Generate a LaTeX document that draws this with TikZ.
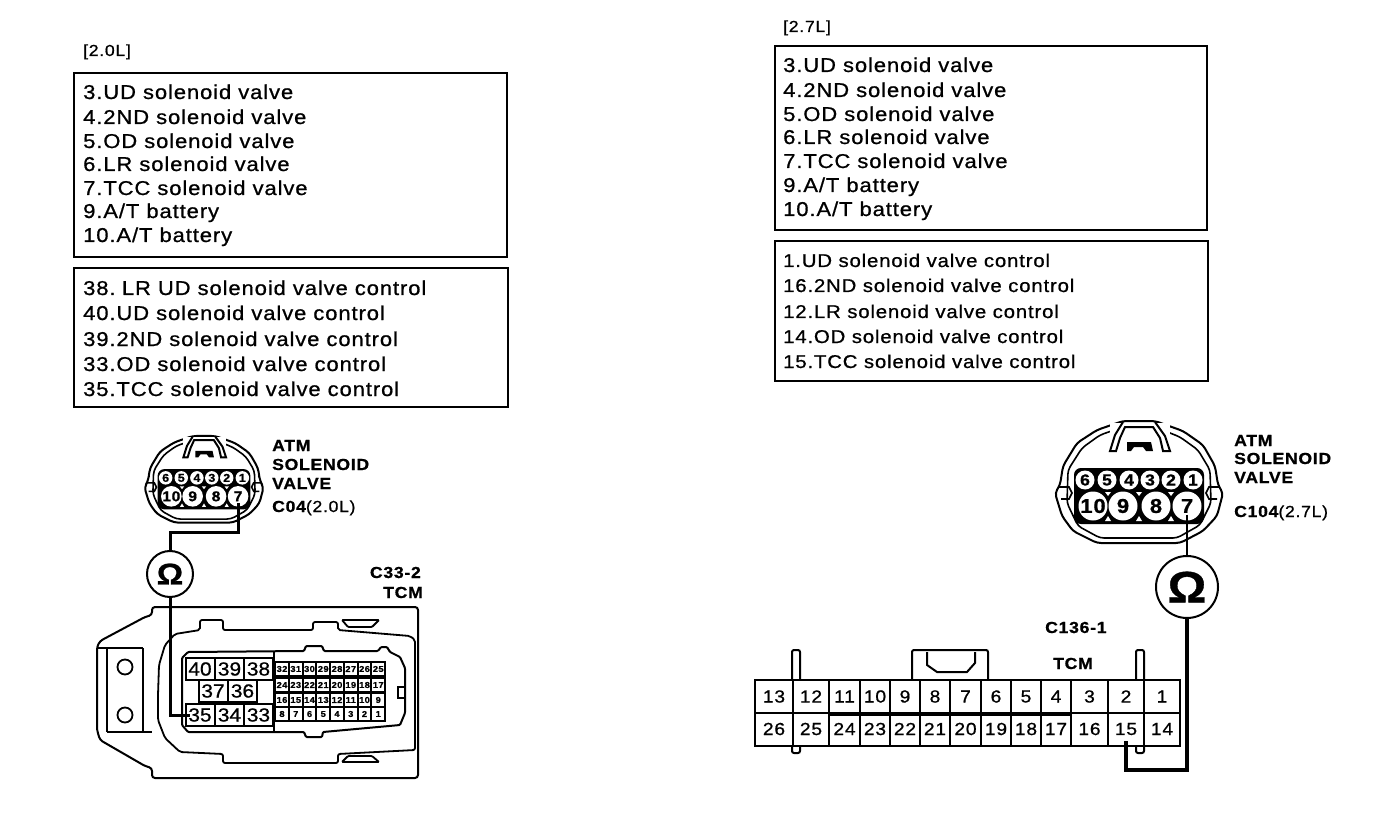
\documentclass[tikz,border=0pt]{standalone}
\usepackage{fontspec}
\setmainfont[FakeStretch=1.1,LetterSpace=4.5,FakeBold=0.8]{Liberation Sans}
\tikzset{
  wire/.style={line width=3pt},
  listbox/.style={line width=2pt},
  listtext/.style={anchor=base west,inner sep=0pt,font=\fontsize{20}{20}\selectfont},
  listsmall/.style={listtext,font=\fontsize{18.5}{18.5}\selectfont},
  tagtext/.style={anchor=base west,inner sep=0pt,font=\fontsize{16}{16}\selectfont},
  namelabel/.style={anchor=base west,inner sep=0pt,font=\fontsize{16}{16}\bfseries\selectfont},
  ohmlarge/.style={circle,draw,line width=2pt,fill=white,minimum size=62pt,inner sep=0pt,font=\fontsize{44}{44}\bfseries\selectfont},
  ohmsmall/.style={circle,draw,line width=2pt,fill=white,minimum size=46pt,inner sep=0pt,font=\fontsize{30}{30}\bfseries\selectfont},
  bigcell/.style={draw,line width=2pt,inner sep=0pt,minimum width=29pt,minimum height=22pt,font=\fontsize{19}{19}\selectfont\addfontfeatures{LetterSpace=0}},
  tinycell/.style={draw,line width=1.8pt,inner sep=0pt,minimum width=13.7pt,minimum height=14pt,font=\fontsize{8.5}{8.5}\bfseries\selectfont},
  railcell/.style={draw,line width=2pt,inner sep=0pt,minimum height=33pt,font=\fontsize{17.5}{17.5}\selectfont},
  atmconn/.pic={
    \draw[line width=2pt,rounded corners=4pt] (0,-62) -- (16,-62) -- (44,-52) -- (64,-38) -- (76,-17) -- (79,2) -- (84,10) -- (78,33) -- (64,48) -- (41,60) -- (-42,60) -- (-66,48) -- (-77,33) -- (-84,10) -- (-79,2) -- (-76,-17) -- (-62,-40) -- (-42,-53) -- (-16,-62) -- cycle;
    \draw[line width=1.6pt,rounded corners=4pt] (0,55) -- (38,55) -- (61,42) -- (72,20) -- (71,-13) -- (59,-33) -- (41,-46) -- (16,-56) -- (-16,-56) -- (-39,-48) -- (-57,-35) -- (-71,-13) -- (-72,20) -- (-61,43) -- (-39,55) -- cycle;
    \draw[line width=1.6pt] (-80,4) -- (-70,4) -- (-67,10) -- (-70,16) -- (-78,16);
    \draw[line width=1.6pt] (80,4) -- (70,4) -- (67,10) -- (70,16) -- (78,16);
    \fill[white] (-29,-60) rectangle (31,-33);
    \draw[line width=2pt] (-16,-61) -- (-24,-48) -- (-29,-32) -- (-23,-32) -- (-19,-45) -- (-14,-56) -- (14,-56) -- (21,-45) -- (24,-32) -- (31,-32) -- (26,-47) -- (16,-61);
    \fill (-12,-41) -- (12,-41) -- (14,-32) -- (7,-32) -- (4,-36) -- (-5,-36) -- (-8,-32) -- (-12,-32) -- cycle;
    \draw[line width=2pt,fill=black,rounded corners=6pt] (-64,-14) rectangle (64,40);
    \foreach \gx in {-31,0,32} {
      \fill[white] (\gx-3,38) -- (\gx+3,38) -- (\gx,33) -- cycle;
      \fill[white] (\gx-3,9) -- (\gx+3,9) -- (\gx,13) -- cycle;
    }
    \foreach \px/\pn in {-54/6,-32/5,-10/4,11/3,32/2,54/1}
      \node[circle,fill=white,inner sep=0pt,minimum size=19pt,transform shape,font=\fontsize{16}{16}\bfseries\selectfont] (-p\pn) at (\px,-3) {\pn};
    \foreach \px/\pn in {-46/10,-16/9,17/8,48/7}
      \node[circle,fill=white,inner sep=0pt,minimum size=29pt,transform shape,font=\fontsize{20}{20}\bfseries\selectfont] (-p\pn) at (\px,23) {\pn};
  }
}
\begin{document}
\begin{tikzpicture}[x=1pt,y=-1pt]
  \useasboundingbox (0,0) rectangle (1376,826);
  \fill[white] (0,0) rectangle (1376,826);

  \node[tagtext] (ltag) at (83,56) {[2.0L]};
  \node[tagtext] (rtag) at (783,32) {[2.7L]};

  \draw[listbox] (74,73) rectangle (507,257);
  \draw[listbox] (74,268) rectangle (508,407);
  \draw[listbox] (775,46) rectangle (1207,230);
  \draw[listbox] (775,241) rectangle (1208,381);

  \foreach \ty/\tx [count=\n] in {99/3.UD solenoid valve,124/4.2ND solenoid valve,148/5.OD solenoid valve,171/6.LR solenoid valve,195/7.TCC solenoid valve,218/{9.A/T battery},242/{10.A/T battery}}
    \node[listtext] (la\n) at (83,\ty) {\tx};
  \foreach \ty/\tx [count=\n] in {295/38. \hspace{-3pt}LR UD solenoid valve control,320/40.UD solenoid valve control,346/39.2ND solenoid valve control,371/33.OD solenoid valve control,396/35.TCC solenoid valve control}
    \node[listtext] (lb\n) at (83,\ty) {\tx};
  \foreach \ty/\tx [count=\n] in {72/3.UD solenoid valve,97/4.2ND solenoid valve,121/5.OD solenoid valve,144/6.LR solenoid valve,168/7.TCC solenoid valve,192/{9.A/T battery},216/{10.A/T battery}}
    \node[listtext] (ra\n) at (783,\ty) {\tx};
  \foreach \ty/\tx [count=\n] in {267/1.UD solenoid valve control,292/16.2ND solenoid valve control,318/12.LR solenoid valve control,343/14.OD solenoid valve control,368/15.TCC solenoid valve control}
    \node[listsmall] (rb\n) at (783,\ty) {\tx};

  \pic[scale=0.71] (lconn) at (204,480) {atmconn};
  \pic (rconn) at (1139,483) {atmconn};

  \node[namelabel] (lname1) at (272,451) {ATM};
  \node[namelabel] (lname2) at (272,470) {SOLENOID};
  \node[namelabel] (lname3) at (272,489) {VALVE};
  \node[namelabel] (lname4) at (272,512) {C04\fontseries{m}\selectfont(2.0L)};
  \node[namelabel] (rname1) at (1234,446) {ATM};
  \node[namelabel] (rname2) at (1234,464) {SOLENOID};
  \node[namelabel] (rname3) at (1234,483) {VALVE};
  \node[namelabel] (rname4) at (1234,517) {C104\fontseries{m}\selectfont(2.7L)};
  \node[namelabel,anchor=base east] (lpart1) at (421,578) {C33-2};
  \node[namelabel,anchor=base east] (lpart2) at (423,598) {TCM};
  \node[namelabel] (rpart1) at (1045,633) {C136-1};
  \node[namelabel] (rpart2) at (1053,669) {TCM};

  % left TCM housing
  \draw[line width=2pt,rounded corners=3pt] (300,607) -- (418,607) -- (418,778) -- (152,778) -- (152,768) -- (145,766) -- (100,740) -- (97,730) -- (97,647) -- (100,641) -- (145,617) -- (152,615) -- (152,607) -- cycle;
  \draw[line width=1.8pt] (97,648) -- (143,648) (107,648) -- (107,732) (143,648) -- (143,732) (107,732) -- (152,732);
  \node[circle,draw,line width=1.8pt,minimum size=15pt,inner sep=0pt] (lhole1) at (125,667) {};
  \node[circle,draw,line width=1.8pt,minimum size=15pt,inner sep=0pt] (lhole2) at (125,715) {};
  \draw[line width=1.8pt,rounded corners=2pt] (158,695) -- (159,665) -- (165,645) -- (175,634) -- (200,630) -- (200,620) -- (223,620) -- (223,630) -- (313,630) -- (313,622) -- (338,622) -- (338,630) -- (410,636) -- (415,640) -- (415,750) -- (338,754) -- (338,763) -- (223,763) -- (223,754) -- (180,752) -- (165,738) -- (158,720) -- cycle;
  \draw[line width=1.8pt,fill=white,rounded corners=1pt] (342,620) -- (379,620) -- (372,627) -- (348,627) -- cycle;
  \draw[line width=1.8pt,fill=white,rounded corners=1pt] (342,762) -- (379,762) -- (372,756) -- (348,756) -- cycle;
  \draw[line width=2pt,rounded corners=1pt] (188,652) -- (304,651) -- (306,646) -- (322,646) -- (324,651) -- (378,651) -- (381,647) -- (387,647) -- (390,652) -- (400,657) -- (405,668) -- (405,713) -- (400,725) -- (323,732) -- (322,737) -- (306,737) -- (304,732) -- (188,732) -- (182,725) -- (182,658) -- cycle;
  \draw[line width=1.8pt] (398,687) rectangle (405,698);
  \draw[line width=2pt] (274,652) -- (274,732);

  \foreach \cx/\cy/\cn in {200/669/40,229.5/669/39,258.5/669/38,213/691/37,242.5/691/36,200/715/35,229.5/715/34,258.5/715/33}
    \node[bigcell] (lc\cn) at (\cx,\cy) {\cn};
  \foreach \cn [count=\i from 0] in {32,31,30,29,28,27,26,25}
    \node[tinycell] (lc\cn) at ({282+13.75*\i},669) {\cn};
  \foreach \cn [count=\i from 0] in {24,23,22,21,20,19,18,17}
    \node[tinycell] (lc\cn) at ({282+13.75*\i},685) {\cn};
  \foreach \cn [count=\i from 0] in {16,15,14,13,12,11,10,9}
    \node[tinycell] (lc\cn) at ({282+13.75*\i},700) {\cn};
  \foreach \cn [count=\i from 0] in {8,7,6,5,4,3,2,1}
    \node[tinycell] (lc\cn) at ({282+13.75*\i},714) {\cn};

  % right TCM rail
  \draw[line width=2pt,rounded corners=2pt] (792,680) -- (792,650) -- (800,650) -- (800,680);
  \draw[line width=2pt,rounded corners=2pt] (792,745) -- (792,753) -- (800,753) -- (800,745);
  \draw[line width=2pt,rounded corners=2pt] (1136,680) -- (1136,650) -- (1144,650) -- (1144,680);
  \draw[line width=2pt,rounded corners=2pt] (1136,745) -- (1136,753) -- (1144,753) -- (1144,745);
  \draw[line width=2pt,rounded corners=2pt] (912,680) -- (912,650) -- (988,650) -- (988,680);
  \draw[line width=2pt] (927,652) -- (927,665) -- (937,672) -- (967,672) -- (975,663) -- (975,652);

  \foreach \xa/\xb/\ctop/\cbot in {755/793/13/26,793/829/12/25,829/860/11/24,860/890/10/23,890/920/9/22,920/950/8/21,950/981/7/20,981/1011/6/19,1011/1041/5/18,1041/1071/4/17,1071/1108/3/16,1108/1144/2/15,1144/1180/1/14} {
    \node[railcell,minimum width={(\xb-\xa)*1pt}] (rc\ctop) at ({(\xa+\xb)/2},696.5) {\ctop};
    \node[railcell,minimum width={(\xb-\xa)*1pt}] (rc\cbot) at ({(\xa+\xb)/2},729) {\cbot};
  }
  \draw[line width=3.4pt] (rc11.south west) -- (rc4.south east);

  \node[ohmsmall] (lohm) at (170,574) {Ω};
  \node[ohmlarge] (rohm) at (1187,587) {Ω};
  \coordinate (lturn) at (170,532);
  \coordinate (rturn) at (1187,770);

  \draw[wire] ([yshift=4pt]lconn-p7.south) |- (lturn) -- (lohm);
  \draw[wire] (lohm) |- ([xshift=5pt]lc35.west);
  \draw[line width=2pt] ([yshift=6pt]rconn-p7.south) -- (rohm);
  \draw[line width=3.4pt] (rohm) -- (rturn) -| ([yshift=6pt]rc15.south);
\end{tikzpicture}
\end{document}
